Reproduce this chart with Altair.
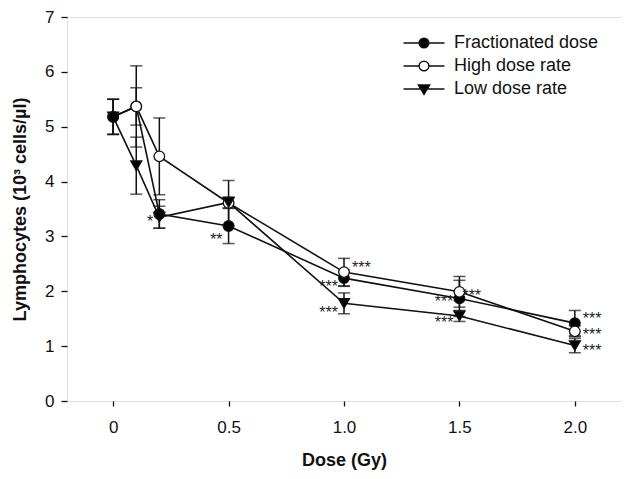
import altair as alt
import pandas as pd

# ---------------- data ----------------
dose = [0, 0.1, 0.2, 0.5, 1.0, 1.5, 2.0]
series_names = ["Fractionated dose", "High dose rate", "Low dose rate"]

frac_mean = [5.18, 5.37, 3.41, 3.19, 2.24, 1.87, 1.42]
frac_err = [0.32, 0.34, 0.26, 0.32, 0.15, 0.33, 0.23]
high_mean = [5.18, 5.37, 4.46, 3.61, 2.35, 1.99, 1.27]
high_err = [0.32, 0.74, 0.70, 0.41, 0.25, 0.28, 0.10]
low_mean = [5.18, 4.29, 3.35, 3.62, 1.78, 1.55, 1.01]
low_err = [0.32, 0.52, 0.20, 0.10, 0.19, 0.10, 0.13]

series_shape = ["circle", "circle", "triangle-down"]
series_fill = ["black", "white", "black"]

ann_text = ["*", "**", "***", "***", "***", "***", "***", "***", "***", "***", "***"]
ann_dose = [0.2, 0.5, 1.0, 1.0, 1.0, 1.5, 1.5, 1.5, 2.0, 2.0, 2.0]
ann_y = [3.34, 3.0, 2.5, 2.16, 1.68, 1.99, 1.87, 1.5, 1.57, 1.27, 0.99]
ann_side = ["left", "left", "right", "left", "left", "near", "left", "left",
            "right", "right", "right"]

x_ticks = [0, 0.5, 1.0, 1.5, 2.0]
y_ticks = [0, 1, 2, 3, 4, 5, 6, 7]

# ---------------- tables ----------------
means = [frac_mean, high_mean, low_mean]
errs = [frac_err, high_err, low_err]
rows = []
for si, name in enumerate(series_names):
    for di, d in enumerate(dose):
        m = means[si][di]
        e = errs[si][di]
        z = si
        if d == 0 and si == 0:
            z = 3
        rows.append({
            "series": name, "dose": d, "mean": m,
            "lo": m - e, "hi": m + e,
            "shape": series_shape[si], "fill": series_fill[si],
            "size": 121 if series_shape[si] == "triangle-down" else 112,
            "z": z,
        })
df = pd.DataFrame(rows)

cap_rows = []
for r in rows:
    cap_rows.append({"series": r["series"], "dose": r["dose"], "v": r["lo"]})
    cap_rows.append({"series": r["series"], "dose": r["dose"], "v": r["hi"]})
caps = pd.DataFrame(cap_rows)

ann = pd.DataFrame({"dose": ann_dose, "y": ann_y, "text": ann_text, "side": ann_side})
leg = pd.DataFrame({"series": series_names})

FONT = "Liberation Sans"
INK = "#111111"

xscale = alt.Scale(domain=[-0.2, 2.2], nice=False, zero=False)
yscale = alt.Scale(domain=[0, 7], nice=False)

xaxis = alt.Axis(
    values=x_ticks, title="Dose (Gy)",
    labelExpr="datum.value == 0 ? '0' : format(datum.value, '.1f')",
    grid=False, domain=False, tickSize=5, tickColor=INK, tickWidth=1.3,
    labelFont=FONT, labelFontSize=17, labelColor=INK, labelPadding=13,
    titleFont=FONT, titleFontSize=18, titleFontWeight="bold", titleColor=INK,
    titlePadding=16,
)
yaxis = alt.Axis(
    values=y_ticks, title="Lymphocytes (10³ cells/µl)", format="d",
    grid=False, domain=False, tickSize=6, tickColor=INK, tickWidth=1.3,
    labelFont=FONT, labelFontSize=17, labelColor=INK, labelPadding=7,
    titleFont=FONT, titleFontSize=18, titleFontWeight="bold", titleColor=INK,
    titlePadding=15,
)

base = alt.Chart(df)

lines = base.mark_line(color=INK, strokeWidth=1.6).encode(
    x=alt.X("dose:Q", scale=xscale, axis=xaxis),
    y=alt.Y("mean:Q", scale=yscale, axis=yaxis),
    detail="series:N",
)

rules = base.mark_rule(color=INK, strokeWidth=1.5).encode(
    x="dose:Q", y="lo:Q", y2="hi:Q",
)

cap_marks = alt.Chart(caps).mark_tick(
    color=INK, orient="horizontal", size=12, thickness=1.5
).encode(x="dose:Q", y="v:Q")

points = base.mark_point(filled=True, stroke=INK, strokeWidth=1.3, opacity=1).encode(
    x="dose:Q", y="mean:Q",
    shape=alt.Shape("shape:N", scale=None),
    fill=alt.Fill("fill:N", scale=None),
    size=alt.Size("size:Q", scale=None),
    order=alt.Order("z:Q"),
)

txt_style = dict(font=FONT, fontSize=16, color="#222222", baseline="alphabetic", dy=9)
ann_left = alt.Chart(ann).transform_filter("datum.side == 'left'").mark_text(
    align="right", dx=-6, **txt_style).encode(x="dose:Q", y="y:Q", text="text:N")
ann_right = alt.Chart(ann).transform_filter("datum.side == 'right'").mark_text(
    align="left", dx=8, **txt_style).encode(x="dose:Q", y="y:Q", text="text:N")
ann_near = alt.Chart(ann).transform_filter("datum.side == 'near'").mark_text(
    align="left", dx=3, **txt_style).encode(x="dose:Q", y="y:Q", text="text:N")

leg_paths = [
    "M-4,0H4M-0.95,0A0.95,0.95,0,1,0,0.95,0A0.95,0.95,0,1,0,-0.95,0Z",
    "M-4,0H-0.95M0.95,0H4M-0.95,0A0.95,0.95,0,1,0,0.95,0A0.95,0.95,0,1,0,-0.95,0Z",
    "M-4,0H4M-1.1,-0.8L1.1,-0.8L0,1.05Z",
]
leg_opts = dict(
    title=None, orient="none", legendX=348, legendY=17,
    padding=0, symbolSize=105, symbolOpacity=1,
    symbolStrokeColor=INK, symbolStrokeWidth=1.5,
    labelFont=FONT, labelFontSize=18, labelColor=INK,
    labelOffset=21, rowPadding=5,
)
legend_layer = alt.Chart(leg).mark_point(
    filled=True, stroke=INK, strokeWidth=1.5, opacity=0, size=105
).encode(
    shape=alt.Shape("series:N", scale=alt.Scale(domain=series_names, range=leg_paths),
                    legend=alt.Legend(**leg_opts)),
    fill=alt.Fill("series:N", scale=alt.Scale(domain=series_names, range=series_fill),
                  legend=alt.Legend(**leg_opts)),
)

chart = alt.layer(
    lines, rules, cap_marks, points, ann_left, ann_right, ann_near, legend_layer
).properties(
    width=554, height=384,
    autosize=alt.AutoSizeParams(type="none"),
    padding={"left": 59, "top": 9, "right": 0, "bottom": 69},
).configure_view(
    stroke=INK, strokeWidth=1.5
).configure(background="white")

chart.save("out.html", embed_options={"renderer": "svg", "actions": False})
